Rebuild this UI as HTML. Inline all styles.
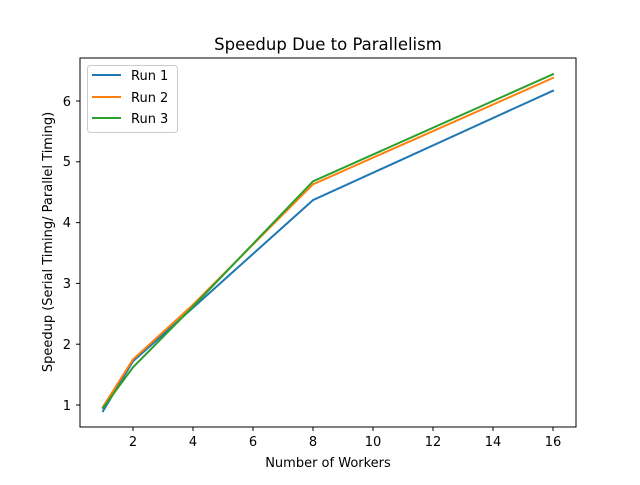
<!DOCTYPE html><html><head><style>body{margin:0;background:#fff}</style></head><body>
<svg width="640" height="480" xmlns="http://www.w3.org/2000/svg" font-family="DejaVu Sans, Liberation Sans, sans-serif">
<rect width="640" height="480" fill="#fff"/>
<text x="328" y="50" font-size="16.5" text-anchor="middle">Speedup Due to Parallelism</text>
<g fill="none" stroke-width="2" stroke-linecap="square">
<polyline stroke="#1f77b4" points="103,411.1 133,361.2 193,307.7 313,200.1 553,90.7"/>
<polyline stroke="#ff7f0e" points="103,406.8 133,359.4 193,304.7 313,184.3 553,77.9"/>
<polyline stroke="#2ca02c" points="103,408 133,367.3 193,306.5 313,181.3 553,74.2"/>
</g>
<rect x="80" y="58" width="496" height="369" fill="none" stroke="#000" stroke-width="1"/>
<g stroke="#000" stroke-width="1">
<line x1="133" y1="427" x2="133" y2="431"/><line x1="193" y1="427" x2="193" y2="431"/><line x1="253" y1="427" x2="253" y2="431"/><line x1="313" y1="427" x2="313" y2="431"/><line x1="373" y1="427" x2="373" y2="431"/><line x1="433" y1="427" x2="433" y2="431"/><line x1="493" y1="427" x2="493" y2="431"/><line x1="553" y1="427" x2="553" y2="431"/>
<line x1="76" y1="405" x2="80" y2="405"/><line x1="76" y1="344.2" x2="80" y2="344.2"/><line x1="76" y1="283.4" x2="80" y2="283.4"/><line x1="76" y1="222.6" x2="80" y2="222.6"/><line x1="76" y1="161.8" x2="80" y2="161.8"/><line x1="76" y1="101" x2="80" y2="101"/>
</g>
<g font-size="13" text-anchor="middle">
<text x="133" y="446">2</text><text x="193" y="446">4</text><text x="253" y="446">6</text><text x="313" y="446">8</text><text x="373" y="446">10</text><text x="433" y="446">12</text><text x="493" y="446">14</text><text x="553" y="446">16</text>
</g>
<g font-size="13" text-anchor="end">
<text x="71" y="410">1</text><text x="71" y="349">2</text><text x="71" y="288">3</text><text x="71" y="227">4</text><text x="71" y="166">5</text><text x="71" y="106">6</text>
</g>
<text x="328" y="467" font-size="13" text-anchor="middle">Number of Workers</text>
<text transform="translate(52,242) rotate(-90)" font-size="13" text-anchor="middle">Speedup (Serial Timing/ Parallel Timing)</text>
<rect x="87.5" y="65.5" width="90" height="67" rx="3" fill="#fff" stroke="#ccc"/>
<g stroke-width="2"><line x1="92" y1="75" x2="121" y2="75" stroke="#1f77b4"/><line x1="92" y1="97" x2="121" y2="97" stroke="#ff7f0e"/><line x1="92" y1="118" x2="121" y2="118" stroke="#2ca02c"/></g>
<g font-size="13"><text x="131" y="80">Run 1</text><text x="131" y="102">Run 2</text><text x="131" y="123">Run 3</text></g>
</svg></body></html>
